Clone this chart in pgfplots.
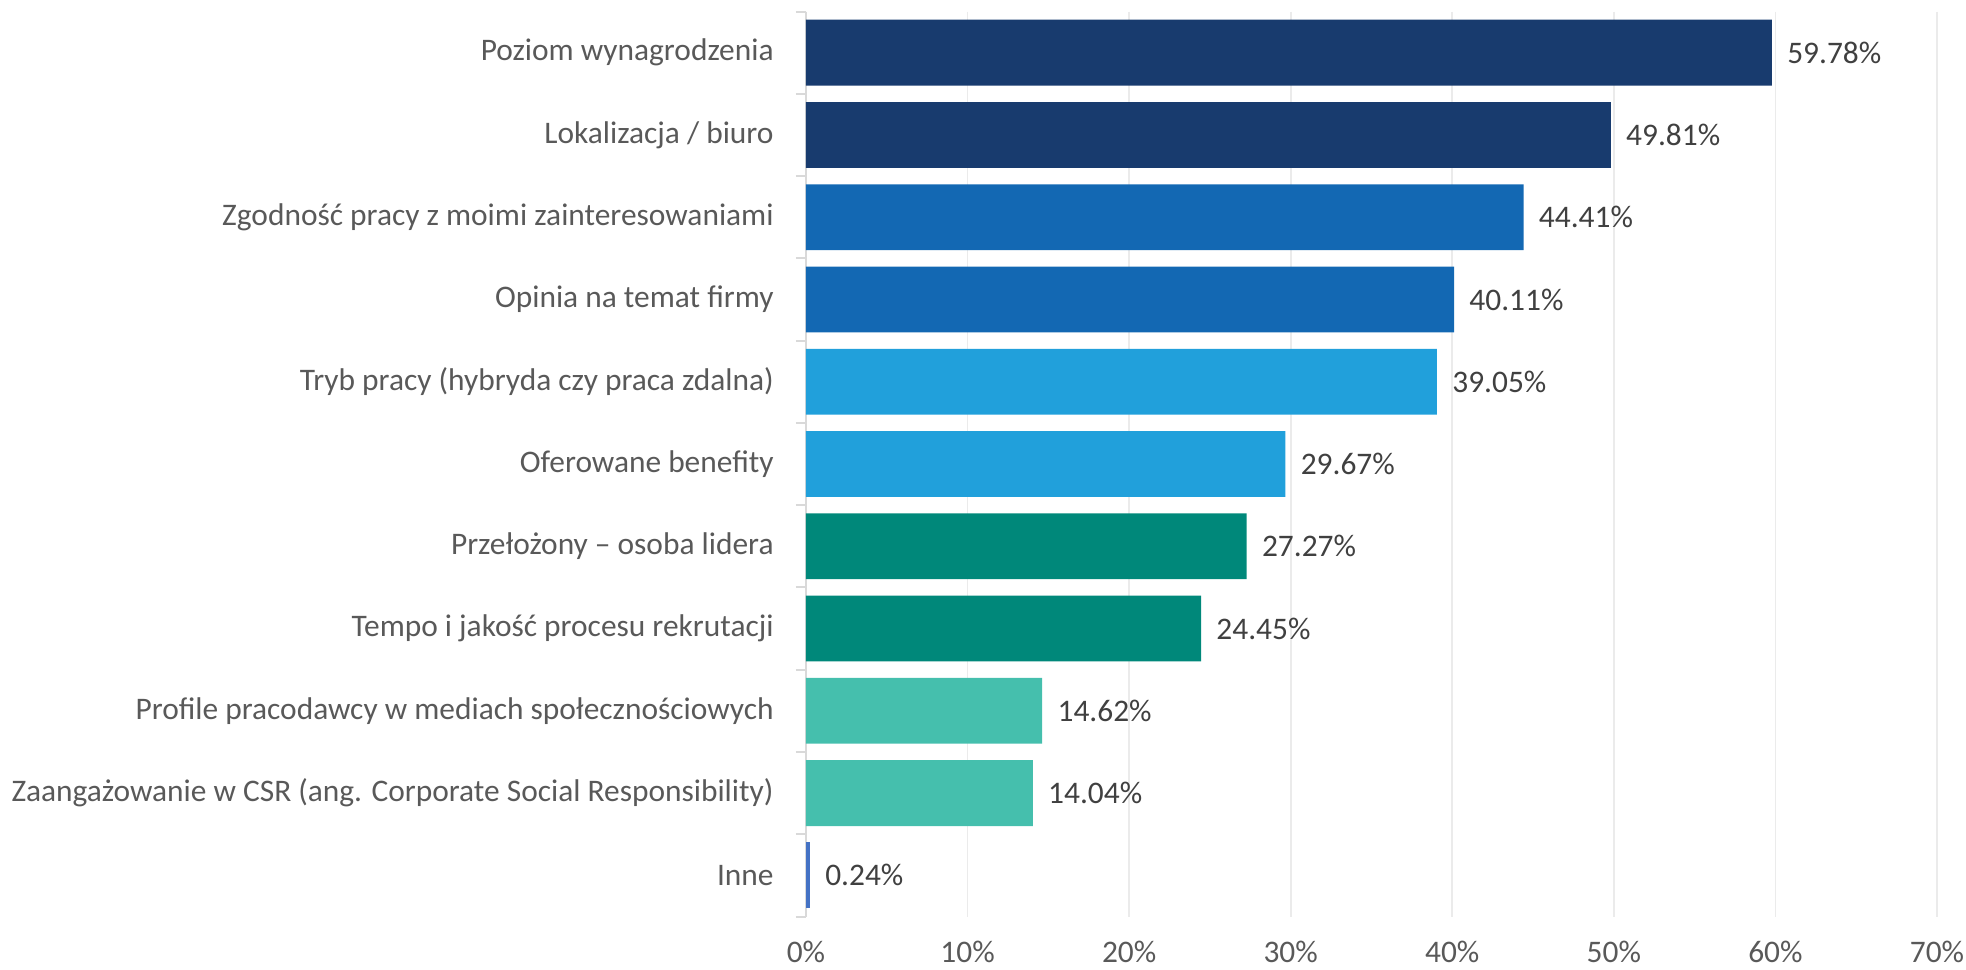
\documentclass[border=0pt]{standalone}
\usepackage{fontspec}
\setmainfont{Carlito}
\usepackage{pgfplots}
\pgfplotsset{compat=1.18}
\definecolor{cnavy}{HTML}{183B6E}
\definecolor{cblue}{HTML}{1368B3}
\definecolor{clight}{HTML}{21A0DB}
\definecolor{cteal}{HTML}{00887A}
\definecolor{cmint}{HTML}{45BFAD}
\definecolor{cinne}{HTML}{4472C4}
\definecolor{tickgray}{HTML}{595959}
\definecolor{valgray}{HTML}{404040}
\definecolor{gridgray}{HTML}{EBEBEB}
\definecolor{axgray}{HTML}{D9D9D9}
\begin{document}
\begin{tikzpicture}
\begin{axis}[
  scale only axis,
  width=565.5pt, height=452.5pt,
  xbar, bar width=0.8, bar shift=0pt,
  xmin=0, xmax=70,
  ymin=-0.5, ymax=10.5,
  y dir=reverse,
  xtick={0,10,...,70},
  xticklabel={\pgfmathprintnumber{\tick}\%},
  /pgf/number format/assume math mode=true,
  ytick={0,...,10},
  yticklabels={{Poziom wynagrodzenia},{Lokalizacja / biuro},{Zgodność pracy z moimi zainteresowaniami},{Opinia na temat firmy},{Tryb pracy (hybryda czy praca zdalna)},{Oferowane benefity},{Przełożony – osoba lidera},{Tempo i jakość procesu rekrutacji},{Profile pracodawcy w mediach społecznościowych},{Zaangażowanie w CSR (ang. Corporate Social Responsibility)},{Inne}},
  minor ytick={-0.5,0.5,...,10.5},
  major tick length=0pt,
  minor tick length=5pt,
  tick align=outside,
  minor tick style={draw=axgray, line width=1pt},
  axis y line*=left,
  axis x line*=bottom,
  x axis line style={draw=none},
  y axis line style={draw=axgray, line width=1pt},
  xmajorgrids,
  major grid style={draw=gridgray, line width=0.8pt},
  tick label style={font=\fontsize{15.7}{18}\selectfont, text=tickgray, inner sep=0pt},
  xticklabel style={anchor=base, yshift=-23pt},
  yticklabel style={anchor=east, xshift=-16pt},
  point meta=x,
  nodes near coords={\pgfmathprintnumber[fixed,precision=2,fixed zerofill]{\pgfplotspointmeta}\%},
  nodes near coords style={font=\fontsize{15.7}{18}\selectfont, text=valgray, anchor=west, inner sep=0pt, xshift=7.5pt},
  every axis plot/.append style={draw=none},
  clip=false,
]
\addplot[fill=cnavy] coordinates {(59.78,0) (49.81,1)};
\addplot[fill=cblue] coordinates {(44.41,2) (40.11,3)};
\addplot[fill=clight] coordinates {(39.05,4) (29.67,5)};
\addplot[fill=cteal] coordinates {(27.27,6) (24.45,7)};
\addplot[fill=cmint] coordinates {(14.62,8) (14.04,9)};
\addplot[fill=cinne] coordinates {(0.24,10)};
\end{axis}
\pgfresetboundingbox
\path ([shift={(-403pt,-26.5pt)}]current axis.south west) rectangle ([shift={(14.5pt,5.75pt)}]current axis.north east);
\end{tikzpicture}
\end{document}
